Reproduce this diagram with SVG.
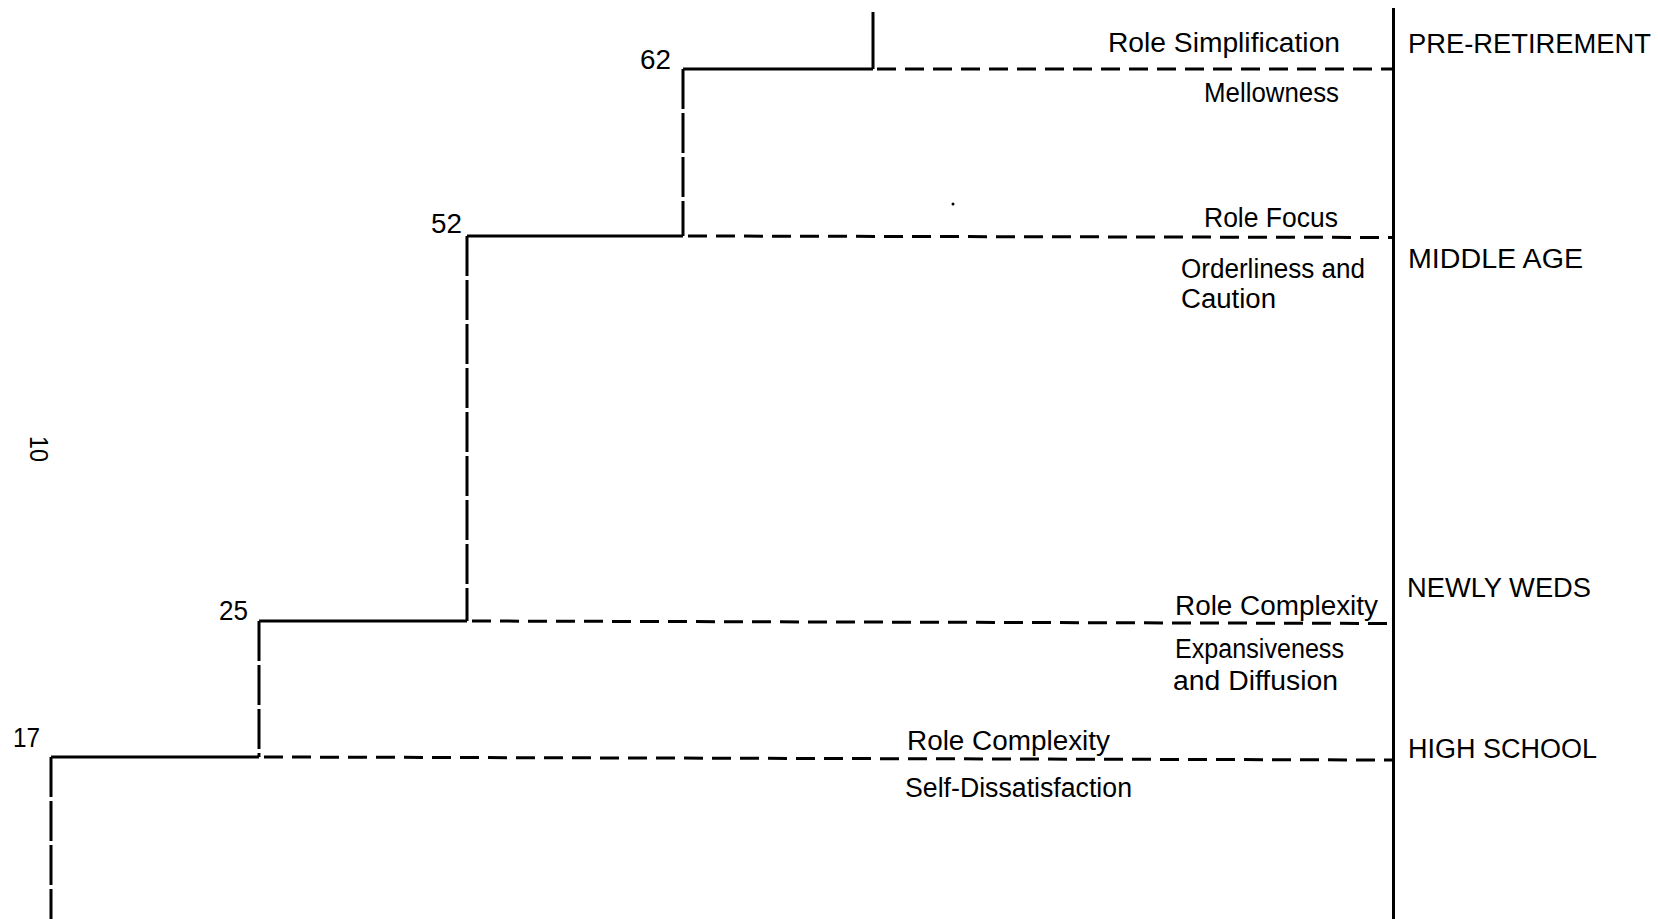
<svg xmlns="http://www.w3.org/2000/svg" width="1658" height="919" viewBox="0 0 1658 919">
<style>
.bg{fill:#ffffff}
.ln{stroke:#000;stroke-width:3;fill:none;stroke-linecap:butt}
.dash{stroke:#000;stroke-width:3;fill:none;stroke-dasharray:19 9}
.vstep{stroke:#000;stroke-width:3;fill:none;stroke-dasharray:40 4}
text{font-family:"Liberation Sans",Arial,sans-serif;font-size:27px;fill:#000}
.num{font-size:27px}
</style>
<rect class="bg" x="0" y="0" width="1658" height="919"/>
<g id="connectors">
  <line class="ln" x1="1393.5" y1="8" x2="1393.5" y2="919"/>
  <line class="ln" x1="873" y1="12" x2="873" y2="69"/>
  <line class="ln" x1="683" y1="69" x2="873" y2="69"/>
  <line class="dash" x1="877" y1="69" x2="1393" y2="69"/>
  <line class="vstep" x1="683" y1="69" x2="683" y2="236"/>
  <line class="ln" x1="467" y1="236" x2="683" y2="236"/>
  <line class="dash" x1="688" y1="236" x2="1393" y2="237.5"/>
  <line class="vstep" x1="467" y1="236" x2="467" y2="621"/>
  <line class="ln" x1="259" y1="621" x2="467" y2="621"/>
  <line class="dash" x1="472" y1="621" x2="1393" y2="623.5"/>
  <line class="vstep" x1="259" y1="621" x2="259" y2="757"/>
  <line class="ln" x1="51" y1="757" x2="259" y2="757"/>
  <line class="dash" x1="264" y1="757" x2="1393" y2="760"/>
  <line class="vstep" x1="51" y1="757" x2="51" y2="919"/>
</g>
<g id="node-pre-retirement">
  <text x="1408" y="53" textLength="243" lengthAdjust="spacingAndGlyphs">PRE-RETIREMENT</text>
  <text x="1108" y="52" textLength="232" lengthAdjust="spacingAndGlyphs">Role Simplification</text>
  <text x="1204" y="102" textLength="135" lengthAdjust="spacingAndGlyphs">Mellowness</text>
  <text class="num" x="640" y="69" textLength="31" lengthAdjust="spacingAndGlyphs">62</text>
</g>
<g id="node-middle-age">
  <text x="1408" y="268" textLength="175" lengthAdjust="spacingAndGlyphs">MIDDLE AGE</text>
  <text x="1204" y="227" textLength="134" lengthAdjust="spacingAndGlyphs">Role Focus</text>
  <text x="1181" y="278" textLength="184" lengthAdjust="spacingAndGlyphs">Orderliness and</text>
  <text x="1181" y="308" textLength="95" lengthAdjust="spacingAndGlyphs">Caution</text>
  <text class="num" x="431" y="233" textLength="31" lengthAdjust="spacingAndGlyphs">52</text>
</g>
<g id="node-newly-weds">
  <text x="1407" y="597" textLength="184" lengthAdjust="spacingAndGlyphs">NEWLY WEDS</text>
  <text x="1175" y="615" textLength="203" lengthAdjust="spacingAndGlyphs">Role Complexity</text>
  <text x="1175" y="658" textLength="169" lengthAdjust="spacingAndGlyphs">Expansiveness</text>
  <text x="1173" y="690" textLength="165" lengthAdjust="spacingAndGlyphs">and Diffusion</text>
  <text class="num" x="219" y="620" textLength="29" lengthAdjust="spacingAndGlyphs">25</text>
</g>
<g id="node-high-school">
  <text x="1408" y="758" textLength="189" lengthAdjust="spacingAndGlyphs">HIGH SCHOOL</text>
  <text x="907" y="750" textLength="203" lengthAdjust="spacingAndGlyphs">Role Complexity</text>
  <text x="905" y="797" textLength="227" lengthAdjust="spacingAndGlyphs">Self-Dissatisfaction</text>
  <text class="num" x="13" y="747" textLength="27" lengthAdjust="spacingAndGlyphs">17</text>
</g>
<g id="page-number">
  <text transform="translate(30,436) rotate(90)" x="0" y="0" style="font-size:25px" textLength="26" lengthAdjust="spacingAndGlyphs">10</text>
</g>
<circle cx="953" cy="204" r="1.5" fill="#000"/>
</svg>
